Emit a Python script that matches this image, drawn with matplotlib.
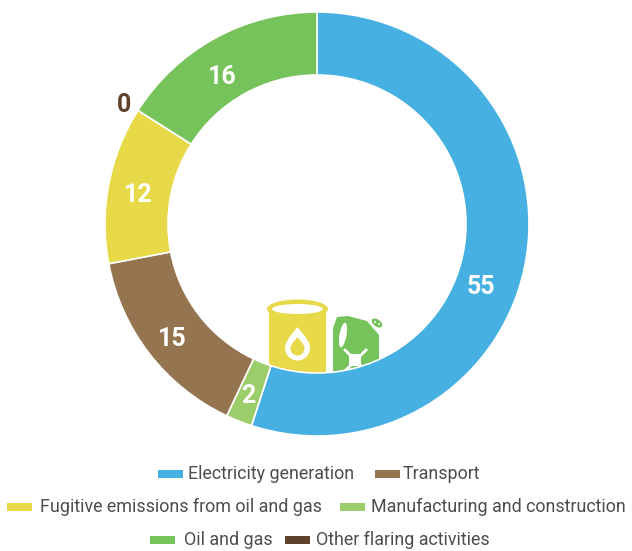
import matplotlib
matplotlib.use("Agg")
import matplotlib.pyplot as plt
from matplotlib.patches import Rectangle, Ellipse, Polygon, Circle

W, H = 632, 551

values = [55, 2, 15, 12, 0, 16]
colors = ['#45B0E1', '#9BCD6B', '#957450', '#E7D947', '#5F422C', '#76C25B']
value_text_pos = [(481, 287), (248, 396), (172, 339), (138, 195), (124, 105), (222, 77)]
value_text_col = ['white', 'white', 'white', 'white', '#5F422C', 'white']

# swatch left, row y, text left for each legend entry
legend_items = [
    ('Electricity generation', '#45B0E1', 158, 474, 188),
    ('Transport', '#957450', 375, 474, 403),
    ('Fugitive emissions from oil and gas', '#E7D947', 7, 507, 40),
    ('Manufacturing and construction', '#9BCD6B', 340, 507, 371),
    ('Oil and gas', '#76C25B', 150, 540, 184),
    ('Other flaring activities', '#5F422C', 285, 540, 316),
]

plt.rcParams['font.family'] = ['Roboto', 'DejaVu Sans']

fig = plt.figure(figsize=(W / 100, H / 100), dpi=100)
ax = fig.add_axes([0, 0, 1, 1])


def py(y):
    return H - y


def poly(points, col, z):
    ax.add_patch(Polygon([(x, py(y)) for x, y in points], closed=True, fc=col, ec='none', zorder=z))


# barrel icon, bottom hidden by the ring
yellow = '#E7D947'
green = '#76C25B'
ax.add_patch(Rectangle((269, py(380)), 57, 72, fc=yellow, ec='none', zorder=1))
ax.add_patch(Ellipse((297.5, py(309)), 61, 19, fc=yellow, ec='none', zorder=1.1))
ax.add_patch(Ellipse((297.5, py(309)), 51, 10, fc='white', ec='none', zorder=1.2))
ax.add_patch(Circle((297.5, py(348)), 12.5, fc='white', ec='none', zorder=1.3))
poly([(297.5, 327), (307, 339), (288, 339)], 'white', 1.3)
ax.add_patch(Circle((297.5, py(348.5)), 7, fc=yellow, ec='none', zorder=1.4))
poly([(297.5, 337), (303, 344), (292, 344)], yellow, 1.4)

# jerry can icon
poly([(333, 380), (333, 328), (337, 317), (348, 316), (367, 321), (379, 335), (379, 380)], green, 1)
ax.add_patch(Ellipse((343, py(335)), 7, 25, angle=-10, fc='white', ec='none', zorder=1.2))
ax.add_patch(Rectangle((349, py(366)), 12, 12, fc='white', ec='none', zorder=1.2))
for x0, y0, x1, y1 in [(345, 350, 351, 356), (366, 350, 360, 356), (345, 371, 351, 365), (366, 371, 360, 365)]:
    ax.plot([x0, x1], [py(y0), py(y1)], color='white', lw=2, zorder=1.2)
ax.add_patch(Ellipse((377, py(323)), 12, 7, angle=-35, fc=green, ec='none', zorder=1))
ax.add_patch(Circle((375, py(322)), 1, fc='white', ec='none', zorder=1.2))
ax.add_patch(Circle((379, py(324)), 1, fc='white', ec='none', zorder=1.2))

wedges, _ = ax.pie(values, colors=colors, startangle=90, counterclock=False, radius=212,
                   center=(317, py(224)), frame=True,
                   wedgeprops=dict(width=63, edgecolor='white', linewidth=1.2, zorder=2))

for v, pos, col in zip(values, value_text_pos, value_text_col):
    ax.text(pos[0], py(pos[1]), str(v), color=col, fontsize=18, fontweight='bold',
            ha='center', va='center', zorder=3)

for label, col, sx, y, tx in legend_items:
    ax.add_patch(Rectangle((sx, py(y + 4)), 25, 8, fc=col, ec='none'))
    ax.text(tx, py(y), label, color='#4D4D4F', fontsize=12.9, ha='left', va='center')

ax.set_xlim(0, W)
ax.set_ylim(0, H)
ax.set_aspect('equal')
ax.axis('off')

fig.savefig('out.png', dpi=100)
